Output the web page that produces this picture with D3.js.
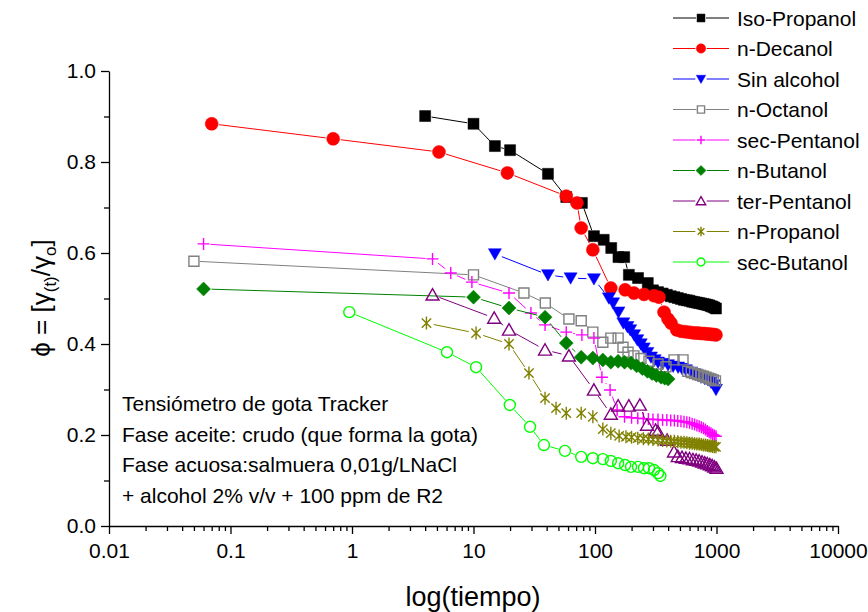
<!DOCTYPE html>
<html>
<head>
<meta charset="utf-8">
<script src="https://cdn.jsdelivr.net/npm/d3@7"></script>
<style>
  body { margin: 0; background: #fff; }
  text { font-family: "Liberation Sans", Arial, sans-serif; }
</style>
</head>
<body>
<script>
// data: time (s) and phi for each alcohol
const isoT = [4, 10, 15, 20, 41, 58, 78, 98, 118, 136, 156, 174, 190, 226, 272, 300, 330, 360, 390, 420, 450, 480, 510, 540, 570, 600, 630, 660, 690, 720, 750, 780, 810, 840, 870, 900, 930, 960, 990]
const isoPhi = [0.901, 0.884, 0.835, 0.826, 0.774, 0.723, 0.710, 0.637, 0.629, 0.611, 0.591, 0.591, 0.552, 0.545, 0.534, 0.518, 0.514, 0.511, 0.508, 0.505, 0.503, 0.501, 0.499, 0.497, 0.496, 0.495, 0.493, 0.492, 0.491, 0.490, 0.489, 0.488, 0.487, 0.486, 0.485, 0.483, 0.482, 0.480, 0.478]

const decT = [0.07, 0.7, 5.2, 19, 58, 71, 77, 96, 135, 177, 209, 253, 306, 336, 370, 399, 422, 470, 510, 550, 590, 630, 670, 710, 750, 790, 830, 870, 910, 950, 990]
const decPhi = [0.884, 0.851, 0.822, 0.776, 0.725, 0.710, 0.655, 0.607, 0.523, 0.519, 0.512, 0.509, 0.506, 0.503, 0.470, 0.455, 0.446, 0.431, 0.428, 0.427, 0.426, 0.425, 0.424, 0.424, 0.423, 0.423, 0.422, 0.422, 0.421, 0.421, 0.420]

const sinT = [15, 41, 63, 98, 130, 141, 156, 171, 185, 195, 210, 223, 238, 252, 270, 289, 310, 330, 360, 399, 440, 483, 520, 560, 617, 660, 700, 745, 800, 850, 900, 953, 990]
const sinPhi = [0.598, 0.552, 0.545, 0.543, 0.501, 0.490, 0.470, 0.446, 0.438, 0.431, 0.420, 0.409, 0.400, 0.391, 0.381, 0.371, 0.365, 0.360, 0.357, 0.354, 0.351, 0.349, 0.346, 0.343, 0.338, 0.334, 0.331, 0.327, 0.324, 0.321, 0.316, 0.310, 0.300]

const octT = [0.05, 10, 26, 39, 61, 77, 96, 116, 135, 155, 170, 187, 209, 239, 278, 330, 384, 447, 530, 580, 620, 660, 700, 740, 780, 820, 860, 900, 940, 980]
const octPhi = [0.582, 0.552, 0.512, 0.490, 0.455, 0.451, 0.426, 0.404, 0.413, 0.413, 0.393, 0.382, 0.374, 0.368, 0.362, 0.356, 0.350, 0.365, 0.365, 0.340, 0.337, 0.335, 0.333, 0.331, 0.329, 0.327, 0.325, 0.323, 0.321, 0.319]

const secPentT = [0.06, 4.6, 6.5, 9.7, 19.6, 29.7, 38.8, 58, 78, 98, 114, 133, 152, 175, 200, 225, 250, 275, 300, 330, 360, 390, 420, 450, 480, 510, 540, 570, 600, 630, 660, 690, 720, 750, 780, 810, 840, 870, 900, 930, 960, 990]
const secPentPhi = [0.620, 0.587, 0.556, 0.536, 0.512, 0.468, 0.442, 0.426, 0.420, 0.413, 0.327, 0.299, 0.255, 0.240, 0.238, 0.237, 0.236, 0.235, 0.234, 0.234, 0.233, 0.233, 0.232, 0.232, 0.231, 0.230, 0.229, 0.228, 0.227, 0.225, 0.223, 0.221, 0.219, 0.217, 0.215, 0.212, 0.209, 0.206, 0.204, 0.201, 0.199, 0.197]

const butT = [0.06, 10, 19.6, 38.8, 58, 77, 96, 116, 135, 155, 175, 198, 220, 245, 270, 295, 320, 350, 375, 400]
const butPhi = [0.521, 0.503, 0.479, 0.459, 0.402, 0.371, 0.369, 0.365, 0.360, 0.362, 0.360, 0.358, 0.352, 0.346, 0.340, 0.335, 0.331, 0.327, 0.325, 0.323]

const terPentT = [4.6, 14.8, 19.6, 38.8, 61, 98, 135, 155, 190, 234, 268, 315, 330, 392, 447, 480, 520, 560, 600, 640, 680, 720, 760, 800, 840, 880, 920, 960, 1000]
const terPentPhi = [0.508, 0.457, 0.431, 0.387, 0.374, 0.299, 0.246, 0.264, 0.264, 0.266, 0.222, 0.211, 0.207, 0.189, 0.163, 0.153, 0.151, 0.149, 0.148, 0.146, 0.145, 0.143, 0.141, 0.139, 0.137, 0.135, 0.133, 0.130, 0.127]

const propT = [4.1, 10.5, 19.6, 28.6, 38.8, 47.8, 58, 77, 96, 116, 135, 158, 180, 200, 225, 250, 275, 300, 330, 360, 390, 420, 450, 480, 510, 540, 570, 600, 630, 660, 690, 720, 750, 780, 810, 840, 870, 900, 930, 960, 990]
const propPhi = [0.446, 0.424, 0.400, 0.336, 0.281, 0.259, 0.248, 0.248, 0.240, 0.213, 0.204, 0.198, 0.196, 0.195, 0.193, 0.192, 0.191, 0.190, 0.189, 0.188, 0.187, 0.186, 0.186, 0.185, 0.184, 0.184, 0.183, 0.182, 0.182, 0.181, 0.180, 0.180, 0.179, 0.178, 0.178, 0.177, 0.176, 0.176, 0.175, 0.174, 0.174]

const secButT = [0.95, 6.05, 10.5, 19.9, 29.2, 38, 56.6, 77, 96, 116, 135, 155, 177, 198, 226, 253, 278, 306, 330, 345]
const secButPhi = [0.470, 0.382, 0.349, 0.266, 0.218, 0.178, 0.165, 0.152, 0.149, 0.147, 0.143, 0.138, 0.134, 0.130, 0.130, 0.127, 0.127, 0.123, 0.116, 0.110]

const seriesNames = ['Iso-Propanol', 'n-Decanol', 'Sin alcohol', 'n-Octanol', 'sec-Pentanol', 'n-Butanol', 'ter-Pentanol', 'n-Propanol', 'sec-Butanol']
const xTicks = [0.01, 0.1, 1, 10, 100, 1000, 10000]
const xTickLabels = ['0.01', '0.1', '1', '10', '100', '1000', '10000']
const yTicks = [0, 0.2, 0.4, 0.6, 0.8, 1.0]
const yMinorTicks = [0.1, 0.3, 0.5, 0.7, 0.9]
const noteLines = ['Tensiómetro de gota Tracker', 'Fase aceite: crudo (que forma la gota)', 'Fase acuosa:salmuera 0,01g/LNaCl', '+ alcohol 2% v/v + 100 ppm de R2']

const series = [
  { t: isoT, phi: isoPhi, color: '#000000', shape: 'square', fill: true, s: 5.5 },
  { t: decT, phi: decPhi, color: '#ff0000', shape: 'circle', fill: true, s: 6.5 },
  { t: sinT, phi: sinPhi, color: '#0000ff', shape: 'triDown', fill: true, s: 6.5 },
  { t: octT, phi: octPhi, color: '#808080', shape: 'square', fill: false, s: 5 },
  { t: secPentT, phi: secPentPhi, color: '#ff00ff', shape: 'plus', fill: false, s: 6 },
  { t: butT, phi: butPhi, color: '#008000', shape: 'diamond', fill: true, s: 7 },
  { t: terPentT, phi: terPentPhi, color: '#800080', shape: 'triUp', fill: false, s: 6.5 },
  { t: propT, phi: propPhi, color: '#808000', shape: 'star', fill: false, s: 6.5 },
  { t: secButT, phi: secButPhi, color: '#00ff00', shape: 'circle', fill: false, s: 5.5 }
].map((d, i) => ({ ...d, name: seriesNames[i] }))

const width = 868
const height = 612

const svg = d3.select('body').append('svg')
  .attr('width', width)
  .attr('height', height)

const xScale = d3.scaleLog().domain([0.01, 10000]).range([109, 838])
const yScale = d3.scaleLinear().domain([0, 1]).range([526, 71])

const shapePath = (shape, s) => {
  const a = s * 0.72
  switch (shape) {
    case 'square': return `M${-s},${-s}h${2 * s}v${2 * s}h${-2 * s}Z`
    case 'circle': return `M${s},0A${s},${s} 0 1,1 ${-s},0A${s},${s} 0 1,1 ${s},0Z`
    case 'triDown': return `M${-s},${-s * 0.8}L${s},${-s * 0.8}L0,${s * 0.95}Z`
    case 'triUp': return `M0,${-s * 0.95}L${s},${s * 0.8}L${-s},${s * 0.8}Z`
    case 'diamond': return `M0,${-s}L${s},0L0,${s}L${-s},0Z`
    case 'plus': return `M${-s},0H${s}M0,${-s}V${s}`
    case 'star': return `M0,${-s}V${s}M${-a},${-a}L${a},${a}M${-a},${a}L${a},${-a}`
  }
}

// axes
const xMinor = []
xTicks.slice(0, -1).forEach(d => { for (let k = 2; k <= 9; k++) xMinor.push(d * k) })

const xAxis = d3.axisBottom(xScale)
  .tickValues(xTicks)
  .tickFormat((d, i) => xTickLabels[i])
  .tickSize(8).tickSizeOuter(0).tickPadding(9)
const xAxisG = svg.append('g').attr('transform', `translate(0,${yScale(0)})`).call(xAxis)
svg.append('g').attr('transform', `translate(0,${yScale(0)})`)
  .call(d3.axisBottom(xScale).tickValues(xMinor).tickFormat('').tickSize(5).tickSizeOuter(0))
  .select('.domain').remove()

const yAxis = d3.axisLeft(yScale)
  .tickValues(yTicks)
  .tickFormat(d3.format('.1f'))
  .tickSize(8).tickSizeOuter(0).tickPadding(5)
const yAxisG = svg.append('g').attr('transform', `translate(${xScale(0.01)},0)`).call(yAxis)
svg.append('g').attr('transform', `translate(${xScale(0.01)},0)`)
  .call(d3.axisLeft(yScale).tickValues(yMinorTicks).tickFormat('').tickSize(5).tickSizeOuter(0))
  .select('.domain').remove()

svg.selectAll('.domain, .tick line').attr('stroke', '#000').attr('stroke-width', 1.3)
;[xAxisG, yAxisG].forEach(g => g.selectAll('text')
  .attr('font-family', '"Liberation Sans", Arial, sans-serif')
  .attr('font-size', 21)
  .attr('fill', '#000'))

// axis titles
svg.append('text')
  .attr('x', 473).attr('y', 606)
  .attr('text-anchor', 'middle')
  .attr('font-size', 27)
  .text('log(tiempo)')

const yTitle = svg.append('text')
  .attr('transform', 'translate(50,298) rotate(-90)')
  .attr('text-anchor', 'middle')
  .attr('font-size', 26)
yTitle.append('tspan').text('ϕ = [γ')
yTitle.append('tspan').attr('font-size', 17).attr('dy', 6).text('(t)')
yTitle.append('tspan').attr('dy', -6).text('/γ')
yTitle.append('tspan').attr('font-size', 17).attr('dy', 6).text('o')
yTitle.append('tspan').attr('dy', -6).text(']')

// connecting lines with a small gap at each marker
const gapLines = (g, pts, gap, color) => {
  for (let i = 1; i < pts.length; i++) {
    const [x1, y1] = pts[i - 1]
    const [x2, y2] = pts[i]
    const len = Math.hypot(x2 - x1, y2 - y1)
    if (len <= 2 * gap) continue
    const ux = (x2 - x1) / len
    const uy = (y2 - y1) / len
    g.append('line')
      .attr('x1', x1 + ux * gap).attr('y1', y1 + uy * gap)
      .attr('x2', x2 - ux * gap).attr('y2', y2 - uy * gap)
      .attr('stroke', color).attr('stroke-width', 1)
  }
}

const drawMarker = (g, d, x, y, s) => {
  g.append('path')
    .attr('transform', `translate(${x},${y})`)
    .attr('d', shapePath(d.shape, s))
    .attr('fill', d.fill ? d.color : 'none')
    .attr('stroke', d.color)
    .attr('stroke-width', d.fill ? 0.5 : 1.4)
}

series.forEach(d => {
  const g = svg.append('g')
  const pts = d.t.map((t, i) => [xScale(t), yScale(d.phi[i])])
  gapLines(g, pts, d.s + 1, d.color)
  pts.forEach(p => drawMarker(g, d, p[0], p[1], d.s))
})

// notes
const note = svg.append('text').attr('font-size', 21)
noteLines.forEach((line, i) => {
  note.append('tspan').attr('x', 122).attr('y', 411 + i * 30.5).text(line)
})

// legend
const legend = svg.append('g').attr('transform', 'translate(673,18)')
series.forEach((d, i) => {
  const row = legend.append('g').attr('transform', `translate(0,${i * 30.5})`)
  const ms = d.s * 0.72
  row.append('line').attr('x1', 0).attr('x2', 28 - ms - 1).attr('stroke', d.color)
  row.append('line').attr('x1', 28 + ms + 1).attr('x2', 56).attr('stroke', d.color)
  drawMarker(row, d, 28, 0, ms)
  row.append('text').attr('x', 64).attr('y', 7.5).attr('font-size', 21).text(d.name)
})
</script>
</body>
</html>
